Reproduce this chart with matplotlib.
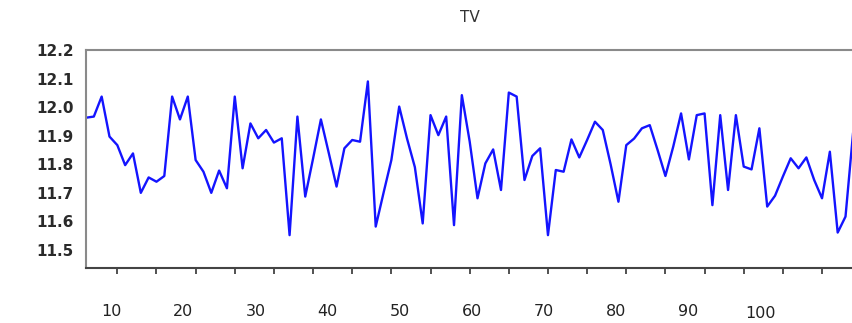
import matplotlib
matplotlib.use("Agg")
from matplotlib import pyplot as plt
import matplotlib.transforms as mtransforms

tv = [11.963, 11.967, 12.037, 11.897, 11.867, 11.797, 11.838, 11.700, 11.754, 11.739,
      11.759, 12.037, 11.957, 12.037, 11.815, 11.774, 11.700, 11.778, 11.716, 12.037,
      11.786, 11.943, 11.891, 11.920, 11.876, 11.891, 11.552, 11.967, 11.687, 11.820,
      11.957, 11.840, 11.722, 11.856, 11.885, 11.879, 12.090, 11.582, 11.700, 11.815,
      12.002, 11.890, 11.790, 11.593, 11.972, 11.902, 11.967, 11.587, 12.042, 11.880,
      11.681, 11.803, 11.852, 11.710, 12.051, 12.037, 11.745, 11.829, 11.856, 11.552,
      11.780, 11.774, 11.887, 11.824, 11.885, 11.949, 11.920, 11.800, 11.669, 11.867,
      11.890, 11.926, 11.937, 11.850, 11.759, 11.862, 11.978, 11.817, 11.972, 11.978,
      11.657, 11.972, 11.710, 11.972, 11.792, 11.782, 11.926, 11.652, 11.690, 11.757,
      11.821, 11.786, 11.824, 11.745, 11.681, 11.844, 11.561, 11.617, 11.920]
y_ticks = [11.5, 11.6, 11.7, 11.8, 11.9, 12.0, 12.1, 12.2]
x_labels = [10, 20, 30, 40, 50, 60, 70, 80, 90, 100]

fig = plt.figure(figsize=(8.53, 3.23), dpi=100)
W, H = 853, 323
# plot box in pixels: left 86, top 50, bottom 268, running past the right edge
ax = fig.add_axes([86 / W, 1 - 268 / H, (99.5 * 7.83) / W, 218 / H])

x = list(range(len(tv)))
ax.plot(x, tv, color='#1414ff', linewidth=1.7)

ax.set_xlim(0, 99.5)
ax.set_ylim(11.437, 12.2)

ax.set_yticks(y_ticks)
ax.set_yticklabels(['%.1f' % v for v in y_ticks], fontsize=11, fontweight='bold', color='#2a2a2a')
ax.tick_params(axis='y', length=0, pad=9)

ax.set_xticks(list(range(4, len(tv) + 1, 5)))
ax.set_xticklabels([])
ax.tick_params(axis='x', direction='out', length=4, width=1.2, color='#333333')

for side in ['top', 'left']:
    ax.spines[side].set_color('#8a8a8a')
    ax.spines[side].set_linewidth(1.5)
ax.spines['bottom'].set_color('#444444')
ax.spines['bottom'].set_linewidth(1.5)
ax.spines['right'].set_visible(False)

# x labels sit in their own row below the ticks, a bit off from the tick marks
trans = mtransforms.blended_transform_factory(ax.transData, fig.transFigure)
for v in x_labels:
    xpos = 3.2 + (v - 10) * 0.922
    ypix = 313 if v == 100 else 311
    ax.text(xpos, 1 - ypix / H, str(v), transform=trans, ha='center', va='center',
            fontsize=11.5, color='#222222', clip_on=False)

fig.text(470 / W, 1 - 17 / H, 'TV', ha='center', va='center', fontsize=11, color='#333333')

fig.savefig('out.png', dpi=100)
